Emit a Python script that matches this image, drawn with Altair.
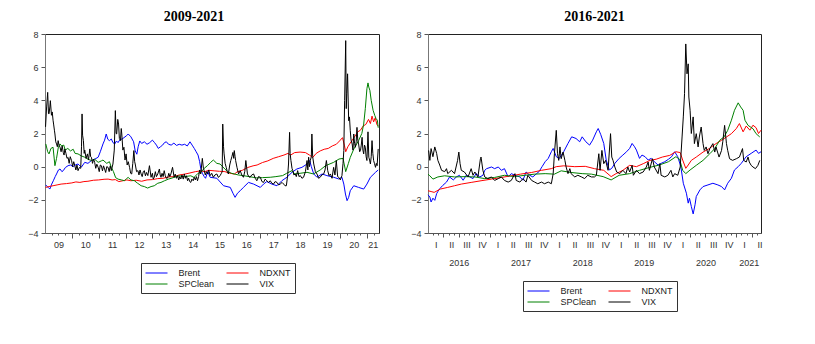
import altair as alt
import pandas as pd

SERIES = ["Brent", "NDXNT", "SPClean", "VIX"]
COLORS = ["#0000ff", "#ff0000", "#008000", "#000000"]
WIDTHS = [1.0, 1.0, 1.0, 1.3]

# ---------------- left panel (2009-2021): (decimal year, value) ----------------
left_brent = [
    (2009.03, -1.1), (2009.08, -1.2), (2009.12, -1.25), (2009.18, -1.35), (2009.25, -1.05), (2009.31, -0.85),
    (2009.38, -0.6), (2009.43, -0.44), (2009.5, -0.2), (2009.56, -0.14), (2009.63, -0.3), (2009.68, -0.24),
    (2009.76, -0.05), (2009.86, 0.06), (2009.95, 0.1), (2010.05, 0.0), (2010.15, 0.12), (2010.23, 0.16),
    (2010.3, 0.05), (2010.36, -0.02), (2010.48, 0.26), (2010.6, 0.2), (2010.73, 0.37), (2010.85, 0.45),
    (2010.98, 0.57), (2011.06, 0.9), (2011.16, 1.37), (2011.22, 1.6), (2011.28, 1.97), (2011.34, 1.65),
    (2011.4, 1.57), (2011.47, 1.67), (2011.53, 1.45), (2011.6, 1.37), (2011.66, 1.55), (2011.72, 1.45),
    (2011.78, 1.6), (2011.9, 1.7), (2012.04, 1.87), (2012.1, 1.97), (2012.2, 1.8), (2012.3, 1.5),
    (2012.36, 0.95), (2012.42, 0.75), (2012.47, 1.2), (2012.53, 1.55), (2012.6, 1.4), (2012.7, 1.5),
    (2012.8, 1.35), (2012.9, 1.45), (2013.0, 1.6), (2013.08, 1.45), (2013.15, 1.3), (2013.22, 1.1),
    (2013.3, 1.2), (2013.38, 1.3), (2013.45, 1.45), (2013.52, 1.5), (2013.6, 1.35), (2013.7, 1.3),
    (2013.8, 1.42), (2013.9, 1.28), (2014.0, 1.35), (2014.1, 1.3), (2014.2, 1.35), (2014.3, 1.25),
    (2014.4, 1.5), (2014.48, 1.3), (2014.56, 1.1), (2014.63, 0.9), (2014.7, 0.7), (2014.76, 0.3),
    (2014.8, -0.1), (2014.86, -0.4), (2014.93, -0.6), (2014.98, -0.7), (2015.06, -0.3), (2015.15, -0.64),
    (2015.4, -0.7), (2015.65, -1.15), (2015.9, -1.25), (2016.0, -1.6), (2016.08, -1.85), (2016.17, -1.6),
    (2016.27, -1.45), (2016.39, -1.25), (2016.58, -0.95), (2016.77, -1.05), (2017.02, -1.25), (2017.14, -1.05),
    (2017.26, -0.9), (2017.45, -1.05), (2017.64, -1.15), (2017.82, -0.85), (2018.01, -0.64), (2018.2, -0.34),
    (2018.38, -0.14), (2018.57, -0.04), (2018.76, 0.16), (2018.86, 0.37), (2018.92, 0.0), (2019.01, -0.44),
    (2019.13, -0.64), (2019.32, -0.44), (2019.5, -0.54), (2019.75, -0.64), (2019.94, -0.74), (2020.06, -0.64),
    (2020.13, -1.05), (2020.19, -1.65), (2020.25, -2.05), (2020.31, -1.85), (2020.37, -1.45), (2020.5, -1.15),
    (2020.68, -1.25), (2020.87, -1.35), (2020.99, -1.05), (2021.12, -0.64), (2021.31, -0.34), (2021.41, -0.2),
]

left_ndxnt = [
    (2009.02, -1.25), (2009.15, -1.2), (2009.3, -1.15), (2009.45, -1.1), (2009.6, -1.05), (2009.8, -1.02),
    (2010.0, -0.98), (2010.15, -0.92), (2010.3, -0.95), (2010.45, -0.9), (2010.6, -0.88), (2010.8, -0.82),
    (2011.0, -0.8), (2011.2, -0.76), (2011.35, -0.75), (2011.5, -0.8), (2011.62, -0.78), (2011.75, -0.9),
    (2011.9, -0.85), (2012.05, -0.8), (2012.2, -0.85), (2012.4, -0.82), (2012.6, -0.88), (2012.8, -0.8),
    (2013.0, -0.78), (2013.2, -0.72), (2013.4, -0.7), (2013.6, -0.62), (2013.8, -0.6), (2014.0, -0.5),
    (2014.2, -0.45), (2014.4, -0.38), (2014.6, -0.3), (2014.8, -0.25), (2014.95, -0.3), (2015.1, -0.22),
    (2015.3, -0.25), (2015.5, -0.28), (2015.7, -0.3), (2015.85, -0.38), (2016.05, -0.45), (2016.15, -0.32),
    (2016.35, -0.22), (2016.55, -0.05), (2016.75, 0.05), (2016.9, 0.1), (2017.1, 0.25), (2017.3, 0.35),
    (2017.5, 0.5), (2017.7, 0.6), (2017.9, 0.7), (2018.05, 0.8), (2018.15, 0.7), (2018.3, 0.85),
    (2018.5, 0.88), (2018.7, 0.85), (2018.85, 0.7), (2018.97, 0.55), (2019.1, 0.8), (2019.25, 0.95),
    (2019.4, 1.05), (2019.55, 1.1), (2019.7, 1.25), (2019.85, 1.35), (2019.97, 1.55), (2020.08, 1.75),
    (2020.15, 1.3), (2020.2, 0.9), (2020.28, 1.2), (2020.4, 1.5), (2020.55, 1.85), (2020.65, 2.1),
    (2020.75, 2.2), (2020.85, 2.45), (2020.95, 2.55), (2021.05, 2.85), (2021.12, 2.6), (2021.18, 3.05),
    (2021.24, 2.7), (2021.3, 2.95), (2021.36, 2.55), (2021.41, 2.45),
]

left_spclean = [
    (2009.03, 1.37), (2009.1, 0.9), (2009.15, 0.77), (2009.22, 1.1), (2009.3, 1.17), (2009.37, 0.06),
    (2009.43, 0.5), (2009.5, 1.2), (2009.56, 1.37), (2009.62, 1.25), (2009.7, 1.3), (2009.75, 1.0),
    (2009.85, 1.1), (2009.95, 0.95), (2010.05, 1.05), (2010.12, 0.8), (2010.23, 0.77), (2010.35, 0.65),
    (2010.48, 0.57), (2010.6, 0.45), (2010.73, 0.37), (2010.85, 0.45), (2010.98, 0.26), (2011.1, 0.35),
    (2011.16, 0.4), (2011.3, 0.2), (2011.4, 0.3), (2011.47, -0.04), (2011.55, -0.3), (2011.63, -0.66),
    (2011.72, -0.75), (2011.85, -0.8), (2011.96, -0.85), (2012.05, -0.7), (2012.1, -0.65), (2012.2, -0.8),
    (2012.33, -0.85), (2012.45, -1.0), (2012.58, -1.15), (2012.7, -1.2), (2012.82, -1.29), (2012.95, -1.2),
    (2013.07, -1.15), (2013.2, -1.0), (2013.32, -0.95), (2013.45, -0.85), (2013.6, -0.75), (2013.8, -0.65),
    (2014.0, -0.55), (2014.2, -0.6), (2014.43, -0.55), (2014.55, -0.65), (2014.7, -0.4), (2014.8, -0.35),
    (2014.93, -0.1), (2015.05, 0.06), (2015.17, 0.26), (2015.27, 0.4), (2015.4, 0.2), (2015.52, 0.16),
    (2015.7, -0.14), (2015.8, -0.3), (2015.95, -0.4), (2016.2, -0.5), (2016.39, -0.54), (2016.6, -0.6),
    (2016.89, -0.68), (2017.1, -0.66), (2017.39, -0.64), (2017.6, -0.6), (2017.85, -0.54), (2018.0, -0.4),
    (2018.2, -0.24), (2018.3, -0.44), (2018.5, -0.4), (2018.76, -0.34), (2019.0, -0.44), (2019.25, -0.2),
    (2019.45, 0.06), (2019.75, 0.26), (2019.95, 0.46), (2020.1, 0.5), (2020.2, -0.3), (2020.3, 0.2),
    (2020.37, 0.56), (2020.5, 1.06), (2020.68, 1.57), (2020.8, 2.0), (2020.87, 2.57), (2020.93, 3.5),
    (2020.99, 4.7), (2021.03, 5.05), (2021.06, 4.8), (2021.1, 4.6), (2021.15, 4.0), (2021.22, 3.4),
    (2021.28, 3.1), (2021.33, 2.9), (2021.38, 2.8), (2021.41, 2.35),
]

left_vix = [
    (2009.02, 2.4), (2009.06, 3.6), (2009.10, 4.48), (2009.13, 3.2), (2009.15, 3.18), (2009.18, 3.6),
    (2009.20, 3.98), (2009.24, 3.1), (2009.27, 3.3), (2009.30, 2.8), (2009.32, 2.57), (2009.35, 2.2),
    (2009.37, 1.97), (2009.40, 1.5), (2009.43, 1.37), (2009.46, 1.2), (2009.49, 1.57), (2009.52, 1.3),
    (2009.56, 1.17), (2009.60, 0.9), (2009.64, 1.25), (2009.68, 0.86), (2009.71, 0.7), (2009.74, 1.07),
    (2009.78, 0.8), (2009.82, 0.5), (2009.86, 0.56), (2009.90, 0.2), (2009.94, 0.6), (2009.99, 0.36),
    (2010.03, 0.0), (2010.07, 0.3), (2010.11, 0.06), (2010.15, -0.2), (2010.19, 0.1), (2010.23, -0.24),
    (2010.28, -0.05), (2010.33, -0.1), (2010.36, 1.2), (2010.38, 3.18), (2010.40, 1.9), (2010.43, 1.57),
    (2010.46, 0.8), (2010.48, 1.0), (2010.53, 0.5), (2010.58, 0.77), (2010.62, 0.4), (2010.67, 1.07),
    (2010.70, 0.6), (2010.73, 0.56), (2010.77, 0.2), (2010.81, 0.45), (2010.85, 0.26), (2010.89, -0.1),
    (2010.93, 0.15), (2010.98, -0.04), (2011.02, -0.3), (2011.06, 0.1), (2011.10, 0.06), (2011.14, -0.25),
    (2011.18, 0.05), (2011.22, -0.14), (2011.26, -0.35), (2011.30, 0.0), (2011.35, -0.04), (2011.39, -0.3),
    (2011.43, 0.05), (2011.47, -0.24), (2011.53, 0.16), (2011.58, 1.0), (2011.62, 3.38), (2011.65, 2.0),
    (2011.67, 1.97), (2011.71, 2.85), (2011.74, 2.57), (2011.77, 1.7), (2011.81, 1.57), (2011.84, 2.3),
    (2011.86, 1.97), (2011.90, 1.0), (2011.94, 1.17), (2011.98, 0.4), (2012.02, 0.77), (2012.06, 0.1),
    (2012.10, 0.3), (2012.15, -0.04), (2012.19, -0.4), (2012.23, -0.44), (2012.27, 0.2), (2012.31, 0.97),
    (2012.34, 0.3), (2012.36, 0.16), (2012.41, -0.3), (2012.46, -0.24), (2012.50, -0.5), (2012.54, -0.2),
    (2012.58, -0.44), (2012.62, -0.6), (2012.66, -0.3), (2012.70, -0.24), (2012.74, -0.55), (2012.78, -0.35),
    (2012.83, -0.54), (2012.89, 0.06), (2012.95, -0.64), (2013.0, -0.4), (2013.03, -0.75), (2013.07, -0.64),
    (2013.11, -0.3), (2013.15, -0.6), (2013.20, -0.44), (2013.26, -0.14), (2013.29, -0.5), (2013.32, -0.64),
    (2013.36, -0.4), (2013.40, -0.6), (2013.44, -0.24), (2013.48, -0.55), (2013.52, -0.7), (2013.57, -0.68),
    (2013.61, -0.4), (2013.65, -0.6), (2013.69, -0.44), (2013.75, -0.04), (2013.81, -0.64), (2013.85, -0.45),
    (2013.90, -0.7), (2013.94, -0.54), (2013.98, -0.8), (2014.02, -0.6), (2014.06, -0.74), (2014.10, -0.5),
    (2014.15, -0.75), (2014.19, -0.44), (2014.23, -0.7), (2014.27, -0.55), (2014.31, -0.85), (2014.35, -0.7),
    (2014.39, -0.9), (2014.43, -0.95), (2014.47, -0.75), (2014.52, -0.85), (2014.56, -0.64), (2014.60, -0.8),
    (2014.64, -0.6), (2014.68, -0.85), (2014.72, -0.6), (2014.76, -0.2), (2014.80, -0.44), (2014.86, 0.5),
    (2014.90, -0.1), (2014.93, -0.24), (2014.97, -0.5), (2015.01, -0.3), (2015.05, -0.44), (2015.10, -0.2),
    (2015.15, -0.54), (2015.21, -0.4), (2015.27, -0.64), (2015.33, -0.5), (2015.40, -0.44), (2015.46, -0.65),
    (2015.52, -0.54), (2015.57, -0.4), (2015.60, -0.3), (2015.62, 2.57), (2015.65, 1.2), (2015.67, 0.77),
    (2015.71, 0.2), (2015.75, -0.04), (2015.79, -0.3), (2015.83, -0.44), (2015.88, 0.1), (2015.92, 0.37),
    (2015.96, 0.6), (2016.0, 0.86), (2016.03, 0.5), (2016.05, 0.97), (2016.08, 0.6), (2016.10, 0.37),
    (2016.15, -0.04), (2016.21, -0.44), (2016.27, -0.24), (2016.33, -0.5), (2016.39, -0.64), (2016.44, -0.3),
    (2016.48, 0.37), (2016.54, -0.44), (2016.59, -0.6), (2016.64, -0.64), (2016.70, -0.5), (2016.77, -0.44),
    (2016.83, -0.7), (2016.89, -0.85), (2016.95, -0.6), (2017.02, -0.64), (2017.08, -0.9), (2017.14, -0.95),
    (2017.20, -0.75), (2017.26, -0.85), (2017.33, -0.95), (2017.39, -0.85), (2017.45, -1.0), (2017.51, -1.05),
    (2017.57, -0.9), (2017.64, -0.95), (2017.70, -1.1), (2017.76, -1.05), (2017.83, -0.95), (2017.89, -1.05),
    (2017.94, -1.15), (2017.99, -1.15), (2018.04, -0.5), (2018.07, 0.16), (2018.11, 2.07), (2018.13, 0.8),
    (2018.16, 0.37), (2018.20, -0.1), (2018.23, -0.24), (2018.27, -0.5), (2018.32, -0.44), (2018.36, -0.6),
    (2018.41, -0.24), (2018.46, -0.6), (2018.51, -0.54), (2018.57, -0.7), (2018.63, -0.64), (2018.70, -0.3),
    (2018.76, 0.37), (2018.79, -0.2), (2018.82, 0.57), (2018.85, 0.0), (2018.88, 0.37), (2018.92, 0.6),
    (2018.94, 1.97), (2018.97, 0.6), (2019.01, 0.16), (2019.07, -0.3), (2019.13, -0.44), (2019.19, -0.7),
    (2019.25, -0.64), (2019.31, -0.5), (2019.38, -0.44), (2019.43, -0.2), (2019.48, 0.37), (2019.53, -0.24),
    (2019.58, -0.55), (2019.63, -0.44), (2019.69, -0.7), (2019.75, -0.04), (2019.80, -0.5), (2019.85, 0.37),
    (2019.90, -0.6), (2019.94, -0.64), (2020.0, -0.8), (2020.06, -0.54), (2020.10, 0.2), (2020.13, 0.97),
    (2020.16, 4.0), (2020.20, 7.6), (2020.22, 3.5), (2020.24, 4.4), (2020.27, 5.6), (2020.31, 2.77),
    (2020.34, 3.0), (2020.37, 2.17), (2020.40, 1.6), (2020.44, 1.37), (2020.47, 1.0), (2020.50, 1.97),
    (2020.53, 1.4), (2020.56, 1.17), (2020.59, 1.5), (2020.62, 2.37), (2020.65, 1.6), (2020.68, 1.37),
    (2020.72, 0.9), (2020.75, 0.97), (2020.78, 1.3), (2020.81, 1.77), (2020.84, 1.0), (2020.87, 0.77),
    (2020.90, 1.3), (2020.93, 1.17), (2020.96, 0.6), (2020.99, 0.37), (2021.03, 2.1), (2021.06, 0.57),
    (2021.09, 0.4), (2021.12, 0.16), (2021.15, 0.6), (2021.18, 1.57), (2021.21, 0.8), (2021.24, 0.37),
    (2021.27, 0.2), (2021.31, -0.04), (2021.34, 0.2), (2021.37, 0.06), (2021.41, 1.07),
]

# ---------------- right panel (2016-2021) ----------------
right_brent = [
    (2016.0, -1.7), (2016.03, -1.83), (2016.05, -2.13), (2016.08, -1.9), (2016.11, -2.03), (2016.14, -1.63),
    (2016.16, -1.5), (2016.19, -1.33), (2016.24, -1.13), (2016.3, -0.93), (2016.35, -0.62), (2016.41, -0.8),
    (2016.46, -0.62), (2016.51, -0.52), (2016.57, -0.82), (2016.62, -0.52), (2016.68, -0.62), (2016.73, -0.72),
    (2016.78, -0.42), (2016.84, -0.62), (2016.89, -0.52), (2016.92, -0.22), (2016.95, -0.12), (2017.03, -0.02),
    (2017.08, -0.12), (2017.14, -0.02), (2017.19, -0.22), (2017.24, -0.12), (2017.3, -0.62), (2017.35, -0.42),
    (2017.41, -0.52), (2017.49, -0.62), (2017.54, -0.82), (2017.59, -0.32), (2017.65, -0.52), (2017.7, -0.62),
    (2017.76, -0.42), (2017.8, -0.3), (2017.85, 0.0), (2017.9, 0.3), (2017.95, 0.5), (2018.0, 0.9),
    (2018.03, 1.1), (2018.08, 0.6), (2018.13, 0.5), (2018.2, 0.9), (2018.27, 1.4), (2018.33, 1.8),
    (2018.4, 1.7), (2018.46, 1.5), (2018.5, 1.8), (2018.56, 1.5), (2018.62, 1.3), (2018.67, 1.6),
    (2018.73, 2.1), (2018.76, 2.3), (2018.8, 1.95), (2018.85, 1.4), (2018.89, 0.4), (2018.94, -0.2),
    (2018.98, -0.1), (2019.03, 0.2), (2019.1, 0.5), (2019.16, 0.7), (2019.22, 0.9), (2019.27, 1.1),
    (2019.31, 1.4), (2019.35, 1.2), (2019.38, 1.0), (2019.43, 0.5), (2019.47, 0.7), (2019.52, 0.6),
    (2019.57, 0.4), (2019.62, 0.5), (2019.67, 0.3), (2019.73, 0.1), (2019.78, 0.2), (2019.84, 0.3),
    (2019.9, 0.45), (2019.95, 0.6), (2020.0, 0.9), (2020.05, 0.6), (2020.1, 0.0), (2020.14, -1.0),
    (2020.19, -1.6), (2020.22, -2.2), (2020.24, -1.9), (2020.27, -2.4), (2020.3, -2.85), (2020.33, -2.3),
    (2020.35, -1.8), (2020.41, -1.4), (2020.46, -1.2), (2020.54, -1.1), (2020.62, -1.0), (2020.7, -1.1),
    (2020.76, -1.2), (2020.81, -1.4), (2020.86, -1.0), (2020.92, -0.7), (2020.97, -0.2), (2021.03, 0.0),
    (2021.08, 0.2), (2021.16, 0.6), (2021.24, 0.8), (2021.32, 1.0), (2021.36, 0.8), (2021.4, 0.9),
]

right_ndxnt = [
    (2016.0, -1.45), (2016.05, -1.5), (2016.1, -1.55), (2016.2, -1.35), (2016.32, -1.25), (2016.43, -1.15),
    (2016.54, -1.05), (2016.7, -0.95), (2016.86, -0.85), (2017.03, -0.75), (2017.19, -0.65), (2017.35, -0.55),
    (2017.5, -0.45), (2017.68, -0.35), (2017.84, -0.22), (2018.0, -0.12), (2018.08, 0.0), (2018.2, 0.05),
    (2018.38, 0.0), (2018.55, 0.02), (2018.7, -0.12), (2018.85, -0.22), (2018.97, -0.6), (2019.05, -0.42),
    (2019.16, -0.22), (2019.27, 0.08), (2019.38, 0.0), (2019.49, 0.18), (2019.6, 0.38), (2019.7, 0.45),
    (2019.8, 0.58), (2019.92, 0.68), (2020.02, 0.9), (2020.09, 0.85), (2020.13, 0.4), (2020.18, -0.1),
    (2020.22, 0.1), (2020.27, 0.38), (2020.35, 0.58), (2020.46, 0.88), (2020.56, 1.09), (2020.67, 1.39),
    (2020.76, 1.59), (2020.84, 1.79), (2020.92, 1.99), (2021.0, 2.3), (2021.05, 2.6), (2021.11, 2.1),
    (2021.16, 2.45), (2021.22, 2.2), (2021.27, 2.5), (2021.32, 2.35), (2021.36, 2.0), (2021.4, 2.2),
]

right_spclean = [
    (2016.0, -0.45), (2016.03, -0.55), (2016.08, -0.75), (2016.16, -0.62), (2016.27, -0.55), (2016.43, -0.62),
    (2016.6, -0.6), (2016.76, -0.62), (2016.92, -0.72), (2017.08, -0.65), (2017.24, -0.52), (2017.4, -0.6),
    (2017.57, -0.52), (2017.73, -0.45), (2017.9, -0.42), (2018.05, -0.45), (2018.16, -0.25), (2018.32, -0.35),
    (2018.5, -0.42), (2018.65, -0.45), (2018.84, -0.6), (2018.97, -0.8), (2019.1, -0.52), (2019.27, -0.42),
    (2019.43, -0.22), (2019.59, -0.05), (2019.75, 0.1), (2019.9, 0.3), (2020.02, 0.6), (2020.08, 0.45),
    (2020.13, -0.22), (2020.18, -0.42), (2020.25, -0.2), (2020.35, 0.08), (2020.46, 0.38), (2020.57, 0.78),
    (2020.65, 1.09), (2020.73, 1.59), (2020.8, 1.79), (2020.86, 2.19), (2020.92, 2.8), (2020.97, 3.4),
    (2021.03, 3.85), (2021.07, 3.6), (2021.11, 3.4), (2021.14, 2.8), (2021.19, 2.49), (2021.27, 2.29),
    (2021.32, 1.99), (2021.38, 1.79),
]

right_vix = [
    (2016.01, 0.98), (2016.03, 0.38), (2016.05, 1.09), (2016.08, 0.6), (2016.11, 1.19), (2016.14, 0.8),
    (2016.16, 0.38), (2016.19, 0.1), (2016.22, -0.22), (2016.27, -0.3), (2016.3, -0.12), (2016.32, -0.42),
    (2016.38, -0.22), (2016.43, -0.42), (2016.48, 0.38), (2016.5, 0.88), (2016.52, 0.18), (2016.54, -0.22),
    (2016.59, -0.32), (2016.65, -0.62), (2016.7, -0.12), (2016.73, -0.52), (2016.76, -0.32), (2016.81, -0.62),
    (2016.85, 0.48), (2016.86, 0.58), (2016.89, -0.22), (2016.92, -0.62), (2016.97, -0.72), (2017.03, -0.62),
    (2017.08, -0.83), (2017.14, -0.72), (2017.19, -0.62), (2017.24, -0.83), (2017.3, -0.93), (2017.35, -0.83),
    (2017.41, -0.42), (2017.43, -0.83), (2017.49, -0.93), (2017.54, -0.72), (2017.59, -0.93), (2017.62, -0.52),
    (2017.68, -0.83), (2017.73, -0.93), (2017.78, -1.03), (2017.84, -0.93), (2017.89, -1.03), (2017.95, -0.93),
    (2018.0, -1.03), (2018.03, -0.42), (2018.05, 0.78), (2018.08, 2.19), (2018.1, 0.78), (2018.12, 0.38),
    (2018.14, 1.19), (2018.16, 0.48), (2018.19, 0.88), (2018.22, 0.38), (2018.24, -0.02), (2018.27, -0.42),
    (2018.3, -0.12), (2018.32, -0.42), (2018.38, -0.62), (2018.43, -0.52), (2018.49, -0.62), (2018.54, -0.72),
    (2018.59, -0.52), (2018.65, -0.62), (2018.7, -0.62), (2018.73, -0.52), (2018.77, 0.78), (2018.79, -0.22),
    (2018.82, 0.98), (2018.85, 0.18), (2018.88, 0.38), (2018.92, -0.22), (2018.96, 1.99), (2018.98, 0.58),
    (2019.0, 0.38), (2019.03, -0.02), (2019.06, -0.32), (2019.11, -0.42), (2019.16, -0.22), (2019.21, -0.42),
    (2019.24, -0.02), (2019.27, -0.32), (2019.31, 0.08), (2019.33, -0.52), (2019.38, -0.22), (2019.43, -0.42),
    (2019.49, -0.32), (2019.54, -0.02), (2019.57, 0.28), (2019.59, -0.22), (2019.64, 0.48), (2019.67, -0.02),
    (2019.73, -0.42), (2019.76, 0.18), (2019.78, -0.52), (2019.84, -0.62), (2019.89, -0.52), (2019.94, -0.22),
    (2019.97, -0.62), (2020.0, -0.42), (2020.05, -0.52), (2020.09, -0.02), (2020.12, 1.79), (2020.14, 3.0),
    (2020.16, 4.4), (2020.18, 7.4), (2020.2, 5.6), (2020.22, 6.2), (2020.23, 4.2), (2020.25, 3.4),
    (2020.27, 2.0), (2020.3, 3.0), (2020.32, 1.39), (2020.35, 1.99), (2020.38, 1.19), (2020.4, 1.79),
    (2020.43, 2.39), (2020.46, 1.39), (2020.48, 0.98), (2020.51, 1.19), (2020.54, 0.78), (2020.57, 1.09),
    (2020.62, 1.39), (2020.65, 0.88), (2020.67, 1.19), (2020.72, 0.58), (2020.76, 0.98), (2020.78, 1.5),
    (2020.81, 2.49), (2020.84, 1.39), (2020.86, 0.98), (2020.89, 0.48), (2020.94, 0.38), (2021.0, 0.48),
    (2021.05, 0.58), (2021.1, 1.09), (2021.12, 0.38), (2021.16, 0.28), (2021.19, 0.58), (2021.21, 0.28),
    (2021.24, 0.08), (2021.27, -0.02), (2021.31, -0.12), (2021.35, 0.08), (2021.38, 0.38),
]


def long_table(parts):
    rows = []
    for name, pts in parts:
        for t, v in pts:
            rows.append({"t": t, "v": v, "s": name})
    return pd.DataFrame(rows)


def axis(**kw):
    base = dict(orient="bottom", title=None, grid=False, labelFlush=False, labelOverlap=False)
    base.update(kw)
    return alt.Axis(**base)


def panel(df, x0, x1, width, tick_sets, label_sets, title, title_dx, legend_xy):
    xs = alt.Scale(domain=[x0, x1], nice=False, zero=False)
    yenc = alt.Y("v:Q", scale=alt.Scale(domain=[-4, 8], nice=False, zero=False),
                 axis=alt.Axis(values=[-4, -2, 0, 2, 4, 6, 8], title=None, grid=False,
                               tickSize=4, labelPadding=3, domainColor="#777"))
    base = alt.Chart(df)
    first_vals, first_size = tick_sets[0]
    lines = base.mark_line().encode(
        x=alt.X("t:Q", scale=xs, axis=axis(values=first_vals, labels=False, tickSize=first_size)),
        y=yenc,
        color=alt.Color("s:N", scale=alt.Scale(domain=SERIES, range=COLORS),
                        legend=alt.Legend(orient="none", legendX=legend_xy[0], legendY=legend_xy[1],
                                          columns=2, direction="horizontal",
                                          symbolType="M-2,0H2", symbolSize=121,
                                          symbolStrokeWidth=1, symbolOffset=5.5,
                                          symbolFillColor="transparent",
                                          title=None, labelFontSize=9,
                                          labelFont="Liberation Sans", labelColor="#222",
                                          strokeColor="#333", padding=4, columnPadding=9,
                                          rowPadding=0, labelOffset=16)),
        strokeWidth=alt.StrokeWidth("s:N", scale=alt.Scale(domain=SERIES, range=WIDTHS), legend=None),
    )
    layers = [lines]
    for vals, size in tick_sets[1:]:
        layers.append(base.mark_point(opacity=0).encode(
            x=alt.X("t:Q", scale=xs, axis=axis(values=vals, labels=False, tickSize=size, domain=False)),
            y=yenc))
    for vals, expr, pad in label_sets:
        layers.append(base.mark_point(opacity=0).encode(
            x=alt.X("t:Q", scale=xs, axis=axis(values=vals, labelExpr=expr, ticks=False, tickSize=0,
                                               domain=False, labelPadding=pad)),
            y=yenc))
    return alt.layer(*layers).resolve_axis(x="independent").properties(
        width=width, height=199,
        title=alt.TitleParams(title, font="Liberation Serif", fontSize=14, fontWeight="bold",
                              color="#000", anchor="middle", frame="group", dx=title_dx, offset=6),
    )


left_df = long_table([("Brent", left_brent), ("NDXNT", left_ndxnt),
                      ("SPClean", left_spclean), ("VIX", left_vix)])
right_df = long_table([("Brent", right_brent), ("NDXNT", right_ndxnt),
                       ("SPClean", right_spclean), ("VIX", right_vix)])

left_quarters = [2009 + k / 4 for k in range(1, 50)]
left_years = [float(y) for y in range(2010, 2022)]
left_labels = [y + 0.5 for y in range(2009, 2021)] + [2021.21]
left = panel(
    left_df, 2009.0, 2021.44, 334,
    [(left_quarters, 2), (left_years, 5)],
    [(left_labels, "format(floor(datum.value) % 100, '02d')", 7)],
    "2009-2021", -18, (96, 229),
)

right_months = [2016 + k / 12 for k in range(1, 65)]
right_quarters = [2016 + k / 4 for k in range(1, 22)]
right_q_labels = [2016 + k / 4 + 0.125 for k in range(0, 22)]
right_y_labels = [y + 0.5 for y in range(2016, 2021)] + [2021.2]
right = panel(
    right_df, 2016.0, 2021.4, 333,
    [(right_months, 2), (right_quarters, 4)],
    [(right_q_labels, "['I','II','III','IV'][floor((datum.value - floor(datum.value)) * 4)]", 7),
     (right_y_labels, "format(floor(datum.value), 'd')", 25)],
    "2016-2021", 0, (95, 247),
)

chart = alt.hconcat(left, right, spacing=28).resolve_scale(color="independent").configure(
    padding={"left": 19, "top": 1, "right": 5, "bottom": 5},
    font="Liberation Sans",
).configure_view(stroke="#222", strokeWidth=1).configure_axis(
    labelFont="Liberation Sans", labelFontSize=9, labelColor="#333",
    tickColor="#555", domainColor="#555",
)

chart.save("out.html", embed_options={"renderer": "svg", "actions": False})
